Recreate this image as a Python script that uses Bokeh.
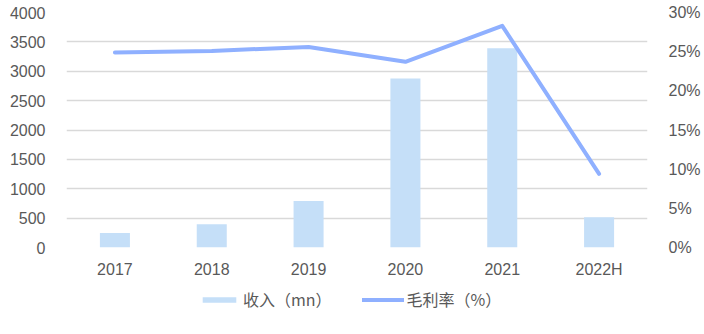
from bokeh.plotting import figure
from bokeh.layouts import column
from bokeh.models import Range1d, LinearAxis, NumeralTickFormatter, FixedTicker, Legend, LegendItem, FactorRange
from bokeh.embed import file_html
from bokeh.resources import INLINE

years = ["2017", "2018", "2019", "2020", "2021", "2022H"]
revenue = [245, 397, 790, 2877, 3390, 516]
margin = [0.249, 0.251, 0.256, 0.237, 0.283, 0.094]
left_ticks = [0, 500, 1000, 1500, 2000, 2500, 3000, 3500, 4000]
right_ticks = [0, 0.05, 0.10, 0.15, 0.20, 0.25, 0.30]

BAR_COLOR = "#C5DFF8"
LINE_COLOR = "#8FB0FF"

p = figure(width=704, height=286, x_range=FactorRange(*years, range_padding=0),
           y_range=Range1d(0, 4000), output_backend="svg", toolbar_location=None,
           min_border_left=66, min_border_right=57, min_border_top=12, min_border_bottom=39)
p.outline_line_color = None
p.extra_y_ranges = {"pct": Range1d(0, 0.30)}

p.vbar(x=years, top=revenue, width=0.31, color=BAR_COLOR, line_color=None)
p.line(x=years, y=margin, y_range_name="pct", line_color=LINE_COLOR, line_width=4,
       line_cap="round", line_join="round")

p.yaxis.ticker = FixedTicker(ticks=left_ticks)
p.ygrid.grid_line_color = "#D9D9D9"
p.ygrid.grid_line_width = 1.5
p.xgrid.grid_line_color = None

for ax in [p.xaxis[0], p.yaxis[0]]:
    ax.axis_line_color = None
    ax.major_tick_line_color = None
    ax.minor_tick_line_color = None
    ax.major_label_text_font = "Liberation Sans"
    ax.major_label_text_font_size = "16px"
    ax.major_label_text_color = "#595959"
p.yaxis.major_label_standoff = 15
p.xaxis.major_label_standoff = 7

ra = LinearAxis(y_range_name="pct", ticker=FixedTicker(ticks=right_ticks),
                formatter=NumeralTickFormatter(format="0%"))
ra.axis_line_color = None
ra.major_tick_line_color = None
ra.minor_tick_line_color = None
ra.major_label_text_font = "Liberation Sans"
ra.major_label_text_font_size = "16px"
ra.major_label_text_color = "#595959"
ra.major_label_standoff = 15
p.add_layout(ra, "right")

# legend strip
q = figure(width=704, height=48, x_range=Range1d(0, 1), y_range=Range1d(0, 1),
           output_backend="svg", toolbar_location=None,
           min_border_left=0, min_border_right=0, min_border_top=0, min_border_bottom=0)
q.axis.visible = False
q.grid.visible = False
q.outline_line_color = None
lb = q.vbar(x=[-10], top=[-10], width=0.3, color=BAR_COLOR, line_color=None)
ll = q.line(x=[-10, -9], y=[-10, -10], line_color=LINE_COLOR, line_width=4, line_cap="round")

legend = Legend(items=[LegendItem(label="收入（mn）", renderers=[lb]),
                       LegendItem(label="毛利率（%）", renderers=[ll])],
                orientation="horizontal", location=(132, 23),
                label_text_font="Noto Sans CJK SC", label_text_font_size="16px",
                label_text_color="#595959", glyph_width=42, glyph_height=7,
                spacing=30, label_standoff=3, padding=0, margin=0,
                border_line_color=None, background_fill_alpha=0)
q.add_layout(legend, "center")

open("out.html", "w").write(file_html(column(p, q, spacing=0), INLINE))
